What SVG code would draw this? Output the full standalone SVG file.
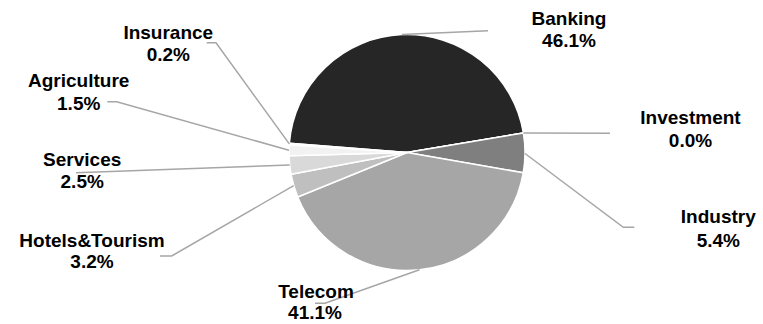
<svg xmlns="http://www.w3.org/2000/svg" width="763" height="324" viewBox="0 0 763 324">
<style>
.slice{stroke:#ffffff;stroke-width:1.5;stroke-linejoin:round}
.lead{fill:none;stroke:#a6a6a6;stroke-width:1.5}
.lbl{font-family:"Liberation Sans",Arial,sans-serif;font-weight:bold;font-size:19px;fill:#000;text-anchor:middle}
</style>
<rect width="763" height="324" fill="#ffffff"/>
<g id="slices">
<g id="banking"><path class="slice" fill="#262626" d="M407,152.5 L289.36,143.24 A118,118 0 0 1 523.37,132.94 Z"/></g>
<g id="investment"><path class="slice" fill="#595959" d="M407,152.5 L523.37,132.94 Z"/></g>
<g id="industry"><path class="slice" fill="#7f7f7f" d="M407,152.5 L523.37,132.94 A118,118 0 0 1 523.24,172.79 Z"/></g>
<g id="telecom"><path class="slice" fill="#a6a6a6" d="M407,152.5 L523.24,172.79 A118,118 0 0 1 297.70,196.97 Z"/></g>
<g id="hotels"><path class="slice" fill="#bfbfbf" d="M407,152.5 L297.70,196.97 A118,118 0 0 1 291.02,174.25 Z"/></g>
<g id="services"><path class="slice" fill="#d9d9d9" d="M407,152.5 L291.02,174.25 A118,118 0 0 1 289.05,155.84 Z"/></g>
<g id="agriculture"><path class="slice" fill="#f2f2f2" d="M407,152.5 L289.05,155.84 A118,118 0 0 1 289.26,144.72 Z"/></g>
<g id="insurance"><path class="slice" fill="#f2f2f2" d="M407,152.5 L289.26,144.72 A118,118 0 0 1 289.36,143.24 Z"/></g>
</g>
<g id="connectors">
<polyline class="lead" points="402,34.6 488,30.7"/>
<polyline class="lead" points="523.4,133 610,133.3"/>
<polyline class="lead" points="525,153.5 623.3,227.3 634.3,227.3"/>
<polyline class="lead" points="419.5,269.8 325,303.3 315,303.3"/>
<polyline class="lead" points="293.7,185.6 171.7,256 160,256"/>
<polyline class="lead" points="289.7,165 76,172.7"/>
<polyline class="lead" points="289,150.2 116.7,101.7 107.3,101.7"/>
<polyline class="lead" points="289.3,143.9 216,42.7 206.7,42.7"/>
</g>
<g id="labels">
<g id="label-banking"><text class="lbl" x="569" y="25">Banking</text><text class="lbl" x="569" y="46.7">46.1%</text></g>
<g id="label-investment"><text class="lbl" x="690.5" y="124">Investment</text><text class="lbl" x="690.5" y="146.7">0.0%</text></g>
<g id="label-industry"><text class="lbl" x="718.3" y="223.3">Industry</text><text class="lbl" x="718.3" y="246.7">5.4%</text></g>
<g id="label-telecom"><text class="lbl" x="316" y="298.3">Telecom</text><text class="lbl" x="315" y="319">41.1%</text></g>
<g id="label-hotels"><text class="lbl" x="92" y="246.7">Hotels&amp;Tourism</text><text class="lbl" x="92" y="268.3">3.2%</text></g>
<g id="label-services"><text class="lbl" x="82.2" y="165.7">Services</text><text class="lbl" x="82.2" y="188.3">2.5%</text></g>
<g id="label-agriculture"><text class="lbl" x="78.7" y="87.3">Agriculture</text><text class="lbl" x="78.7" y="110">1.5%</text></g>
<g id="label-insurance"><text class="lbl" x="168.3" y="39">Insurance</text><text class="lbl" x="168.3" y="60.7">0.2%</text></g>
</g>
</svg>
